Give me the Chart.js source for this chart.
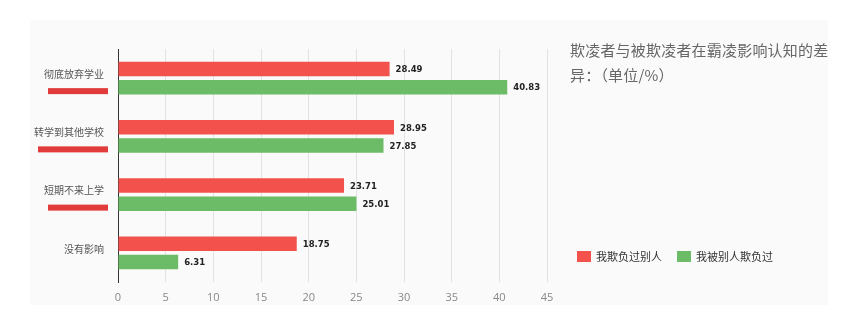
<!DOCTYPE html>
<html>
<head>
<meta charset="utf-8">
<script src="https://cdn.jsdelivr.net/npm/chart.js@4"></script>
<style>
  body { margin: 0; background: #fff; }
  #wrap { position: relative; width: 853px; height: 329px; overflow: hidden; }
  #panel { position: absolute; left: 30px; top: 20px; width: 798px; height: 285px; background: #fafafa; }
  #myChart { position: absolute; left: 0; top: 0; }
  #titulo {
    position: absolute; left: 570px; top: 37px; width: 262px;
    font: 15px "Noto Sans CJK SC", sans-serif; color: #666; line-height: 25px;
    letter-spacing: 0.2px;
  }
  #leyenda { position: absolute; left: 577px; top: 248px; font: 11px "Noto Sans CJK SC", sans-serif; color: #333; }
  #leyenda span.item { position: absolute; white-space: nowrap; top: 0; }
  #leyenda i { display: inline-block; width: 14px; height: 11px; vertical-align: -1px; margin-right: 5px; }
</style>
</head>
<body>
<div id="wrap">
  <div id="panel"></div>
  <canvas id="myChart" width="853" height="329"></canvas>
  <div id="titulo">欺凌者与被欺凌者在霸凌影响认知的差异：（单位/%）</div>
  <div id="leyenda"></div>
</div>
<script>
const categorias = ["彻底放弃学业", "转学到其他学校", "短期不来上学", "没有影响"];
const nombresSeries = ["我欺负过别人", "我被别人欺负过"];
const valoresAgresor = [28.49, 28.95, 23.71, 18.75];
const valoresVictima = [40.83, 27.85, 25.01, 6.31];
const ticksX = [0, 5, 10, 15, 20, 25, 30, 35, 40, 45];
const subrayado = [true, true, true, false];

const colores = ["#f2524b", "#6cbb66"];

const ctx = document.getElementById("myChart");
const leyenda = document.getElementById("leyenda");

// etiquetas de valor al final de cada barra
const etiquetasValor = {
  id: "etiquetasValor",
  afterDatasetsDraw(chart) {
    const c = chart.ctx;
    c.save();
    c.font = "bold 8.5px 'DejaVu Sans', sans-serif";
    c.fillStyle = "#222";
    c.textBaseline = "middle";
    chart.data.datasets.forEach((ds, i) => {
      chart.getDatasetMeta(i).data.forEach((bar, j) => {
        c.fillText(ds.data[j].toFixed(2), bar.x + 6, bar.y + 1);
      });
    });
    c.restore();
  },
};

// trazos rojos bajo las etiquetas
const marcador = {
  id: "marcador",
  afterDraw(chart) {
    const c = chart.ctx;
    const y = chart.scales.y;
    c.save();
    c.font = "10px 'Noto Sans CJK SC', sans-serif";
    c.fillStyle = "#e23b3b";
    categorias.forEach((cat, i) => {
      if (!subrayado[i]) return;
      const w = c.measureText(cat).width;
      const right = y.right - 12;
      const cy = y.getPixelForTick(i) + 13;
      c.fillRect(right - w + 2, cy - 3, w, 6);
    });
    c.restore();
  },
};

const myChart = new Chart(ctx, {
  type: "bar",
  data: {
    labels: categorias,
    datasets: [
      { label: nombresSeries[0], data: valoresAgresor, backgroundColor: colores[0] },
      { label: nombresSeries[1], data: valoresVictima, backgroundColor: colores[1] },
    ],
  },
  options: {
    indexAxis: "y",
    responsive: false,
    animation: false,
    categoryPercentage: 0.62,
    barPercentage: 0.8,
    layout: { padding: { top: 49, right: 306, left: 0, bottom: 0 } },
    plugins: { legend: { display: false }, tooltip: { enabled: false } },
    scales: {
      x: {
        min: 0,
        max: 45,
        afterFit: (s) => { s.height = 47; },
        afterBuildTicks: (s) => { s.ticks = ticksX.map((v) => ({ value: v })); },
        grid: { color: "#e2e2e2", drawTicks: false },
        border: { display: false },
        ticks: { padding: 9, color: "#888", font: { size: 11, family: "'Open Sans', sans-serif" } },
      },
      y: {
        afterFit: (s) => { s.width = 118; },
        grid: { display: false, drawTicks: false },
        border: { display: true, color: "#333", width: 1 },
        ticks: {
          padding: 14,
          labelOffset: -4,
          color: "#555",
          font: { size: 10, family: "'Noto Sans CJK SC', sans-serif" },
        },
      },
    },
  },
  plugins: [etiquetasValor, marcador],
});

nombresSeries.forEach((nombre, i) => {
  leyenda.innerHTML += `<span class="item" style="left:${i * 100}px"><i style="background:${colores[i]}"></i>${nombre}</span>`;
});
</script>
</body>
</html>
